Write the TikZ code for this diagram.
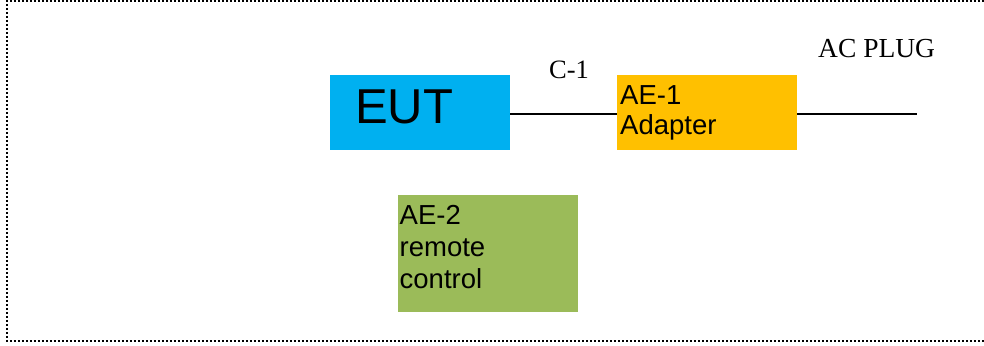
\documentclass[tikz,border=0pt]{standalone}
\usepackage{fontspec}
\setmainfont{Liberation Serif}
\newfontfamily\arialf{Liberation Sans}
\definecolor{eutblue}{HTML}{00B0F0}
\definecolor{aeorange}{HTML}{FFC000}
\definecolor{aegreen}{HTML}{9BBB59}
\tikzset{
  boxnode/.style={draw=none, rectangle, inner sep=0pt, anchor=north west},
  conn/.style={draw=black, line width=2pt},
  dotborder/.style={draw=black, line width=2.4pt, dash pattern=on 2.4pt off 1.6pt},
  boxtext/.style={anchor=base west, inner sep=0pt, align=left, font=\arialf},
  serifl/.style={anchor=base west, inner sep=0pt}
}
\begin{document}
\begin{tikzpicture}[x=1pt, y=-1pt]
\useasboundingbox (0,0) rectangle (984,345);
% border
\draw[dotborder] (984,1) -- (7,1) -- (7,341) -- (984,341);
% boxes
\node[boxnode, fill=eutblue, minimum width=180pt, minimum height=75pt] (eut) at (330,75) {};
\node[boxnode, fill=aeorange, minimum width=180pt, minimum height=75pt] (ae1) at (617,75) {};
\node[boxnode, fill=aegreen, minimum width=180pt, minimum height=117pt] (ae2) at (398,195) {};
% texts
\node[boxtext, font=\arialf\fontsize{49}{58}\selectfont] (eutt) at (355,123) {EUT};
\node[boxtext, font=\arialf\fontsize{27.5}{29.5}\selectfont] (ae1t) at (620,134) {AE-1\\Adapter};
\node[boxtext, font=\arialf\fontsize{27.5}{32}\selectfont] (ae2t) at (399.5,288) {AE-2\\remote\\control};
% connectors
\coordinate (plug) at (917,113.5);
\draw[conn] (eut.east |- 0,113.5) -- (ae1.west |- 0,113.5);
\draw[conn] (ae1.east |- 0,113.5) -- (plug);
% labels
\node[serifl, font=\fontsize{26.5}{30}\selectfont] (c1) at (549,78) {C-1};
\node[serifl, font=\fontsize{27.5}{33}\selectfont] (acplug) at (818,57) {AC PLUG};
\end{tikzpicture}
\end{document}
